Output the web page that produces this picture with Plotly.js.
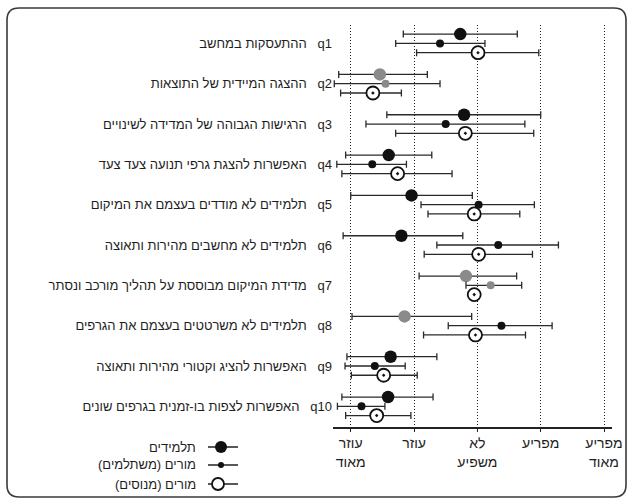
<!DOCTYPE html>
<html>
<head>
<meta charset="utf-8">
<script src="https://cdn.plot.ly/plotly-3.0.1.min.js"></script>
<style>html,body{margin:0;padding:0;background:#fff;}#chart{width:633px;height:504px;}</style>
</head>
<body>
<div id="chart"></div>
<script>
// ---- data ----
const questionIds = ["q1","q2","q3","q4","q5","q6","q7","q8","q9","q10"];
const questionLabels = [
  "ההתעסקות במחשב",
  "ההצגה המיידית של התוצאות",
  "הרגישות הגבוהה של המדידה לשינויים",
  "האפשרות להצגת גרפי תנועה צעד צעד",
  "תלמידים לא מודדים בעצמם את המיקום",
  "תלמידים לא מחשבים מהירות ותאוצה",
  "מדידת המיקום מבוססת על תהליך מורכב ונסתר",
  "תלמידים לא משרטטים בעצמם את הגרפים",
  "האפשרות להציג וקטורי מהירות ותאוצה",
  "האפשרות לצפות בו-זמנית בגרפים שונים"
];
const scaleValues = [1, 2, 3, 4, 5];
const scaleLabels = ["עוזר<br>מאוד", "עוזר", "לא<br>משפיע", "מפריע", "מפריע<br>מאוד"];
const seriesNames = ["תלמידים", "מורים (משתלמים)", "מורים (מנוסים)"];

const studentsMean = [2.73, 1.46, 2.79, 1.60, 1.96, 1.80, 2.82, 1.85, 1.63, 1.59];
const studentsLow  = [1.83, 0.81, 1.57, 0.92, 1.00, 0.88, 2.08, 1.02, 0.94, 0.86];
const studentsHigh = [3.63, 2.21, 4.00, 2.28, 2.92, 2.77, 3.62, 2.91, 2.36, 2.30];

const trainedMean = [2.41, 1.55, 2.50, 1.34, 3.02, 3.33, 3.21, 3.38, 1.38, 1.17];
const trainedLow  = [1.71, 0.74, 1.24, 0.78, 2.11, 2.36, 2.82, 2.54, 0.91, 0.79];
const trainedHigh = [3.12, 2.41, 3.75, 1.88, 3.90, 4.28, 3.70, 4.18, 1.86, 1.54];

const experiencedMean = [3.01, 1.35, 2.81, 1.74, 2.95, 3.02, 2.95, 2.97, 1.52, 1.41];
const experiencedLow  = [2.04, 0.84, 1.71, 0.86, 2.22, 2.16, 2.95, 2.15, 1.01, 0.92];
const experiencedHigh = [3.97, 1.80, 3.89, 2.60, 3.67, 3.87, 2.95, 3.76, 2.05, 1.95];

// ---- styling helpers (not data) ----
const fadedStudents = [1, 6, 7];   // indices printed lighter in the source
const fadedTrained = [1, 6];
const RLE = "\u202B", PDF = "\u202C";
const rtl = s => RLE + s + PDF;

const rowIndex = questionIds.map((_, i) => i + 1);
const offset = 0.23;
const errPlus = (m, h) => m.map((v, i) => h[i] - v);
const errMinus = (m, l) => m.map((v, i) => v - l[i]);
const ink = "#1e1e1e";
const FONT = "Liberation Sans, Arial, sans-serif";

function errBar(m, l, h) {
  return {type: "data", symmetric: false, array: errPlus(m, h), arrayminus: errMinus(m, l),
          color: "#2a2a2a", thickness: 1.3, width: 3.5};
}

const traces = [
  {
    type: "scatter", mode: "markers", name: seriesNames[0], showlegend: false,
    x: studentsMean, y: rowIndex.map(v => v - offset),
    error_x: errBar(studentsMean, studentsLow, studentsHigh),
    marker: {symbol: "circle", size: 12.5,
             color: studentsMean.map((_, i) => fadedStudents.includes(i) ? "#8a8a8a" : "#111"),
             line: {width: 0}}
  },
  {
    type: "scatter", mode: "markers", name: seriesNames[1], showlegend: false,
    x: trainedMean, y: rowIndex,
    error_x: errBar(trainedMean, trainedLow, trainedHigh),
    marker: {symbol: "circle", size: 8,
             color: trainedMean.map((_, i) => fadedTrained.includes(i) ? "#8a8a8a" : "#111"),
             line: {width: 0}}
  },
  {
    type: "scatter", mode: "markers", name: seriesNames[2], showlegend: false,
    x: experiencedMean, y: rowIndex.map(v => v + offset),
    error_x: errBar(experiencedMean, experiencedLow, experiencedHigh),
    marker: {symbol: "circle-dot", size: 13, color: "#fff", line: {color: "#111", width: 1.8}}
  }
];

// pixel -> paper helpers for decorations
const L = 333, R = 612, T = 25, B = 427;
const px = v => (v - L) / (R - L);
const py = v => (B - v) / (B - T);

// rounded frame
function roundedRect(x0, y0, x1, y1, r) {
  const P = (x, y) => px(x) + "," + py(y);
  return "M" + P(x0 + r, y0) + " L" + P(x1 - r, y0) + " Q" + P(x1, y0) + " " + P(x1, y0 + r) +
         " L" + P(x1, y1 - r) + " Q" + P(x1, y1) + " " + P(x1 - r, y1) +
         " L" + P(x0 + r, y1) + " Q" + P(x0, y1) + " " + P(x0, y1 - r) +
         " L" + P(x0, y0 + r) + " Q" + P(x0, y0) + " " + P(x0 + r, y0) + " Z";
}

const shapes = [
  {type: "path", xref: "paper", yref: "paper", path: roundedRect(7, 8, 626, 497, 12),
   line: {color: "#3a3a3a", width: 1.6}, fillcolor: "rgba(0,0,0,0)", layer: "below"}
];
const annotations = [];
const legendY = [447, 465, 484];
legendY.forEach((yy, k) => {
  annotations.push({xref: "paper", yref: "paper", x: px(198), y: py(yy), xanchor: "right", yanchor: "middle",
    text: rtl(seriesNames[k]), showarrow: false, font: {size: 13, color: ink, family: FONT}});
  shapes.push({type: "line", xref: "paper", yref: "paper", x0: px(208), x1: px(238), y0: py(yy), y1: py(yy),
    line: {color: "#111", width: 1.4}});
  const rad = k === 1 ? 3 : 6;
  const cx = k === 2 ? 218 : 221;
  shapes.push({type: "circle", xref: "paper", yref: "paper",
    x0: px(cx - rad), x1: px(cx + rad), y0: py(yy - rad), y1: py(yy + rad),
    fillcolor: k === 2 ? "#fff" : "#111", line: {color: "#111", width: k === 2 ? 1.8 : 0}});
});

const layout = {
  width: 633, height: 504,
  margin: {l: L, r: 633 - R, t: T, b: 504 - B, pad: 0},
  paper_bgcolor: "#fff", plot_bgcolor: "#fff",
  showlegend: false,
  font: {family: FONT, color: ink},
  xaxis: {
    range: [0.72, 5.126], tickmode: "array", tickvals: scaleValues, ticktext: scaleLabels,
    showgrid: true, gridcolor: "#222", griddash: "1px,2px", gridwidth: 1,
    zeroline: false, showline: true, linecolor: "#222", linewidth: 1.5,
    ticks: "outside", ticklen: 3, tickcolor: "#222",
    tickfont: {size: 14, color: ink}, fixedrange: true
  },
  yaxis: {
    range: [10.513, 0.544], tickmode: "array", tickvals: rowIndex,
    ticktext: questionIds.map((q, i) => rtl(q + "   " + questionLabels[i])),
    showgrid: false, zeroline: false, showline: false, ticks: "",
    tickfont: {size: 13, color: ink}, fixedrange: true
  },
  shapes: shapes,
  annotations: annotations
};

Plotly.newPlot("chart", traces, layout, {displayModeBar: false, staticPlot: true});
</script>
</body>
</html>
